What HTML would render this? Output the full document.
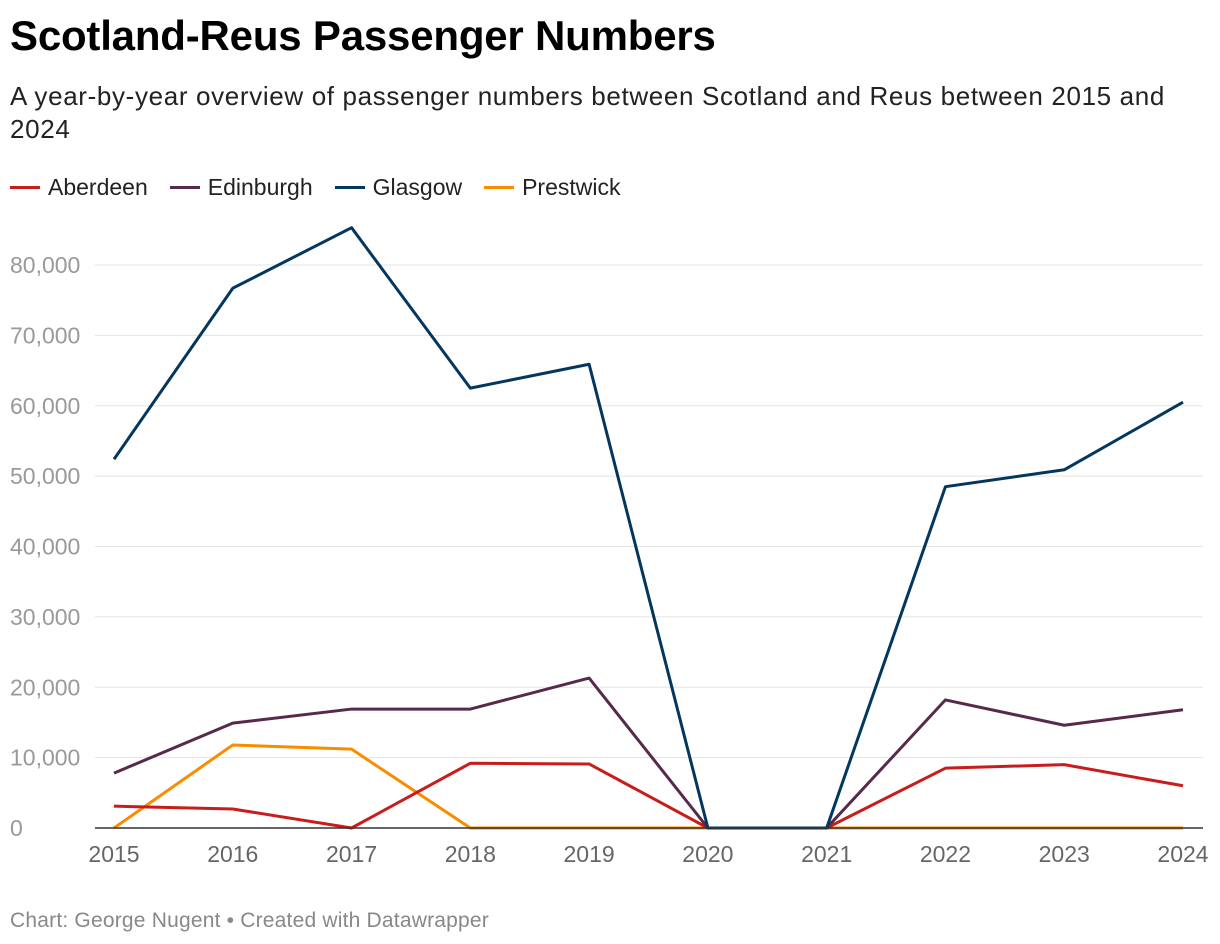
<!DOCTYPE html>
<html><head><meta charset="utf-8"><style>
body{margin:0;background:#fff;width:1220px;height:944px;overflow:hidden;font-family:"Liberation Sans",sans-serif}
h1{position:absolute;left:10px;top:12px;margin:0;font-size:42px;font-weight:bold;color:#000;letter-spacing:-0.2px}
.sub{position:absolute;left:10px;top:80px;font-size:26px;color:#222;line-height:33px;width:1200px;letter-spacing:0.65px}
.legend{position:absolute;left:10px;top:174px;font-size:23px;color:#222;display:flex}
.li{display:flex;align-items:center;margin-right:22px}
.sw{width:30px;height:3px;margin-right:8px}
.foot{position:absolute;left:10px;top:909px;font-size:21px;color:#888;letter-spacing:0.2px}
svg{position:absolute;left:0;top:0}
</style></head><body>
<h1>Scotland-Reus Passenger Numbers</h1>
<div class="sub">A year-by-year overview of passenger numbers between Scotland and Reus between 2015 and 2024</div>
<div class="legend">
<div class="li"><span class="sw" style="background:#c71e1d"></span>Aberdeen</div>
<div class="li"><span class="sw" style="background:#57294a"></span>Edinburgh</div>
<div class="li"><span class="sw" style="background:#04375e"></span>Glasgow</div>
<div class="li"><span class="sw" style="background:#fa8c00"></span>Prestwick</div>
</div>
<svg id="chart" width="1220" height="944"></svg>
<div class="foot">Chart: George Nugent • Created with Datawrapper</div>
<script>
const years=[2015,2016,2017,2018,2019,2020,2021,2022,2023,2024];
const aberdeen=[3100,2700,0,9200,9100,0,0,8500,9000,6000];
const edinburgh=[7800,14900,16900,16900,21300,0,0,18200,14600,16800];
const glasgow=[52400,76700,85300,62500,65900,0,0,48500,50900,60500];
const prestwick=[0,11800,11200,0,0,0,0,0,0,0];
const yTicks=[0,10000,20000,30000,40000,50000,60000,70000,80000];
const svg=document.getElementById('chart');
const NS='http://www.w3.org/2000/svg';
const x=i=>114+i*(1183-114)/(years.length-1);
const y=v=>828-v*(828-265)/80000;
function mk(t,a){const e=document.createElementNS(NS,t);for(const k in a)e.setAttribute(k,a[k]);svg.appendChild(e);return e;}
yTicks.forEach(v=>{
 if(v>0){const g=mk('line',{x1:95,x2:1203,y1:y(v),y2:y(v),stroke:'#e3e3e3','stroke-width':1});
 
 }
 const t=mk('text',{x:10,y:y(v)+8,'font-size':23,fill:'#999','font-family':'Liberation Sans, sans-serif'});
 t.textContent=v.toLocaleString('en-US');
 
 
});
years.forEach((yr,i)=>{
 const t=mk('text',{x:x(i),y:862,'font-size':23,fill:'#666','text-anchor':'middle','font-family':'Liberation Sans, sans-serif'});
 t.textContent=yr;
 
 
});
const series=[['prestwick',prestwick,'#fa8c00'],['aberdeen',aberdeen,'#c71e1d'],['edinburgh',edinburgh,'#57294a'],['glasgow',glasgow,'#04375e']];
series.forEach(([n,d,c])=>{
 const p=mk('polyline',{points:d.map((v,i)=>x(i)+','+y(v)).join(' '),fill:'none',stroke:c,'stroke-width':3,'stroke-linejoin':'round'});
 
 
});
const ax=mk('line',{x1:95,x2:1203,y1:828,y2:828,stroke:'#333','stroke-width':1.5});


</script>
</body></html>
